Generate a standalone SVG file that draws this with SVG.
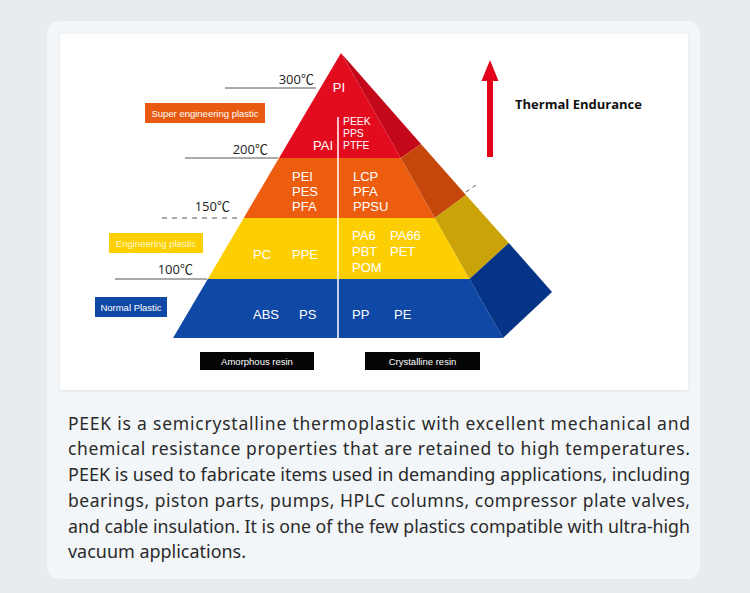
<svg xmlns="http://www.w3.org/2000/svg" width="750" height="593" viewBox="0 0 750 593">
<defs>
<style>
.lbl{font-family:"Liberation Sans",Arial,sans-serif;fill:#ffffff;font-size:13px}
.sm{font-size:10.4px}
.temp{font-family:"Open Sans","Noto Sans CJK SC",sans-serif;fill:#222;font-size:13px;text-anchor:end}
.tline{stroke:#555;stroke-width:1;fill:none}
.tag{font-family:"Liberation Sans",Arial,sans-serif;font-size:9.5px;fill:#fff;text-anchor:middle}
.para{font-family:"Noto Sans","Open Sans",sans-serif;font-size:17.5px;fill:#2a2a2a}
</style>
<filter id="sh" x="-5%" y="-5%" width="110%" height="115%">
<feDropShadow dx="0" dy="1" stdDeviation="1.5" flood-color="#000" flood-opacity="0.08"/>
</filter>
</defs>
<rect x="0" y="0" width="750" height="593" fill="#e7ecf0"/>
<rect x="47" y="21" width="653" height="558" rx="12" fill="#f2f6f9"/>
<rect x="60" y="34" width="628" height="356" fill="#ffffff" filter="url(#sh)"/>

<g id="connectors">
<line class="tline" x1="225" y1="88" x2="316" y2="88"/>
<line class="tline" x1="185" y1="158" x2="278" y2="158"/>
<line class="tline" x1="162" y1="218" x2="242" y2="218" stroke-dasharray="5,5"/>
<line class="tline" x1="466" y1="192" x2="479" y2="183" stroke-dasharray="4,4"/>
<line class="tline" x1="115" y1="279" x2="207" y2="279"/>
</g>

<g id="layer-red">
<polygon points="341,53 400.7,158 279,158" fill="#e30c1e"/>
<polygon points="341,53 421,144 400.7,158" fill="#c5071a"/>
</g>
<g id="layer-orange">
<polygon points="279,158 400.7,158 434.8,218 243.7,218" fill="#ec5d0f"/>
<polygon points="400.7,158 421,144 466,195 434.8,218" fill="#c6470b"/>
</g>
<g id="layer-yellow">
<polygon points="243.7,218 434.8,218 469.5,279 207.8,279" fill="#fdcf02"/>
<polygon points="434.8,218 466,195 508.8,243 469.5,279" fill="#c9a307"/>
</g>
<g id="layer-blue">
<polygon points="207.8,279 469.5,279 503,338 173,338" fill="#0f48a5"/>
<polygon points="469.5,279 508.8,243 552,292 503,338" fill="#053386"/>
</g>
<line x1="338" y1="117" x2="338" y2="338" stroke="#ffffff" stroke-width="1.5"/>

<g id="red-text">
<text class="lbl" x="339" y="92" text-anchor="middle">PI</text>
<text class="lbl" x="333" y="150" text-anchor="end" font-size="12">PAI</text>
<text class="lbl sm" x="343" y="125">PEEK</text>
<text class="lbl sm" x="343" y="137">PPS</text>
<text class="lbl sm" x="343" y="149">PTFE</text>
</g>
<g id="orange-text">
<text class="lbl" x="292" y="181">PEI</text>
<text class="lbl" x="292" y="196">PES</text>
<text class="lbl" x="292" y="211">PFA</text>
<text class="lbl" x="353" y="181">LCP</text>
<text class="lbl" x="353" y="196">PFA</text>
<text class="lbl" x="353" y="211">PPSU</text>
</g>
<g id="yellow-text">
<text class="lbl" x="253" y="259">PC</text>
<text class="lbl" x="292" y="259">PPE</text>
<text class="lbl" x="352" y="240">PA6</text>
<text class="lbl" x="390" y="240">PA66</text>
<text class="lbl" x="352" y="256">PBT</text>
<text class="lbl" x="390" y="256">PET</text>
<text class="lbl" x="352" y="272">POM</text>
</g>
<g id="blue-text">
<text class="lbl" x="253" y="319">ABS</text>
<text class="lbl" x="299" y="319">PS</text>
<text class="lbl" x="352" y="319">PP</text>
<text class="lbl" x="394" y="319">PE</text>
</g>

<g id="temps">
<text class="temp" x="314" y="84">300℃</text>
<text class="temp" x="268" y="154">200℃</text>
<text class="temp" x="230" y="211">150℃</text>
<text class="temp" x="193" y="274">100℃</text>
</g>

<g id="tag-super">
<rect x="145" y="103" width="120" height="20" fill="#e85a10"/>
<text class="tag" x="205" y="116.5">Super engineering plastic</text>
</g>
<g id="tag-engineering">
<rect x="109" y="233" width="94" height="20" fill="#fcd000"/>
<text class="tag" x="156" y="246.5" style="fill:#fff7cf">Engineering plastic</text>
</g>
<g id="tag-normal">
<rect x="95" y="297" width="72" height="20" fill="#0f48a5"/>
<text class="tag" x="131" y="310.5">Normal Plastic</text>
</g>
<g id="tag-amorphous">
<rect x="200" y="352" width="114" height="18" fill="#050505"/>
<text class="tag" x="257" y="364.5">Amorphous resin</text>
</g>
<g id="tag-crystalline">
<rect x="365" y="352" width="115" height="18" fill="#050505"/>
<text class="tag" x="422.5" y="364.5">Crystalline resin</text>
</g>

<g id="thermal">
<polygon points="490,60 498.5,81 481.5,81" fill="#e2031a"/>
<rect x="487" y="80" width="6" height="77" fill="#e2031a"/>
<text x="515" y="109" font-family="'Open Sans','Noto Sans',sans-serif" font-weight="bold" font-size="13" fill="#111" textLength="127" lengthAdjust="spacingAndGlyphs">Thermal Endurance</text>
</g>

<g id="paragraph">
<text class="para" x="68" y="429.5" textLength="622" lengthAdjust="spacing">PEEK is a semicrystalline thermoplastic with excellent mechanical and</text>
<text class="para" x="68" y="455.3" textLength="622" lengthAdjust="spacing">chemical resistance properties that are retained to high temperatures.</text>
<text class="para" x="68" y="481" textLength="622" lengthAdjust="spacingAndGlyphs">PEEK is used to fabricate items used in demanding applications, including</text>
<text class="para" x="68" y="506.8" textLength="622" lengthAdjust="spacing">bearings, piston parts, pumps, HPLC columns, compressor plate valves,</text>
<text class="para" x="68" y="532.6" textLength="622" lengthAdjust="spacingAndGlyphs">and cable insulation. It is one of the few plastics compatible with ultra-high</text>
<text class="para" x="68" y="558.4" textLength="178" lengthAdjust="spacingAndGlyphs">vacuum applications.</text>
</g>
</svg>
